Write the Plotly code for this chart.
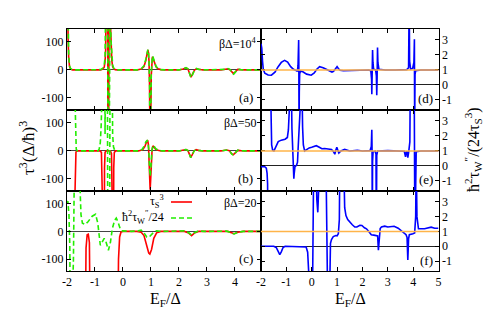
import plotly.graph_objects as go

# ---------------- data ----------------
# panel (a)  beta*Delta = 1e4
XA = [-2.00, -1.98, -1.96, -1.94, -1.91, -1.87, -1.80, -0.80, -0.72, -0.67, -0.64, -0.62,
      -0.60, -0.58, -0.555, -0.545, -0.53, -0.52, -0.49, -0.46, -0.43, -0.40, -0.37, -0.33,
      -0.28, -0.20, 0.50, 0.65, 0.75, 0.82, 0.86, 0.89, 0.91, 0.93, 0.95, 0.965, 0.975, 0.99,
      1.01, 1.03, 1.05, 1.08, 1.12, 1.18, 1.25, 1.35, 1.50, 2.00, 2.15, 2.25, 2.32, 2.38,
      2.43, 2.48, 2.55, 2.62, 2.70, 2.85, 3.50, 3.65, 3.75, 3.83, 3.90, 3.95, 4.02, 4.10,
      4.20, 4.35, 4.93]
RA = [500, 220, 110, 45, 12, 3, 0, 0, 3, 10, 30, 70,
      160, 500, 900, -900, -900, 900, 500, 200, 80, 35, 12, 4,
      1, 0, 0, 3, 12, 35, 58, 71, 62, 30, -60, -250, -500, -200,
      -20, 35, 47, 40, 25, 11, 4, 1, 0, 0, 3, 7, 3, -12,
      -26, -16, -1, 4, 2, 0, 0, 2, 4, 0, -11, -14, -6, 2,
      1, 0, 0]
GA = [500, 240, 120, 55, 15, 4, 0, 1, 6, 18, 45, 100,
      220, 600, 900, -900, -900, 900, 600, 260, 110, 50, 18, 6,
      2, 0, 0, 4, 15, 40, 62, 72, 64, 32, -50, -230, -500, -220,
      -10, 38, 50, 44, 28, 13, 5, 1, 0, 0, 4, 8, 4, -14,
      -28, -18, -2, 5, 2, 0, 0, 2, 5, 1, -12, -15, -7, 3,
      1, 0, 0]

# panel (b)  beta*Delta = 50
XB_R = [-2.00, -1.73, -1.715, -1.70, -1.68, -1.64, -0.82, -0.77, -0.75, -0.74, -0.67, -0.66,
        -0.64, -0.60, -0.45, -0.41, -0.40, -0.39, -0.34, -0.33, -0.31, -0.26, 0.55, 0.70,
        0.78, 0.84, 0.88, 0.91, 0.93, 0.95, 0.97, 0.99, 1.01, 1.04, 1.07, 1.11, 1.17, 1.25,
        1.35, 2.00, 2.15, 2.25, 2.32, 2.38, 2.42, 2.47, 2.54, 2.61, 2.70, 2.85, 3.50, 3.70,
        3.80, 3.88, 3.94, 4.02, 4.10, 4.20, 4.35, 4.93]
RB = [-500, -500, -150, -30, -4, 0, 0, -5, -60, -500, -500, -60,
      -5, 0, 0, -10, -80, -500, -500, -60, -5, 0, 0, 4,
      15, 32, 38, 22, -20, -90, -138, -100, -40, 5, 18, 14, 6, 2,
      0, 0, 3, 5, 1, -14, -23, -14, 0, 5, 2, 0, 0, 3,
      1, -10, -14, -6, 2, 1, 0, 0]
XB_G = [-2.00, -1.72, -1.705, -1.69, -1.67, -1.63, -0.90, -0.85, -0.81, -0.78, -0.76, -0.74,
        -0.66, -0.64, -0.62, -0.56, -0.54, -0.48, -0.46, -0.40, -0.37, -0.34, -0.30, -0.24,
        0.55, 0.68, 0.76, 0.82, 0.86, 0.89, 0.92, 0.95, 0.97, 1.00, 1.03, 1.07, 1.11, 1.17,
        1.25, 1.40, 2.00, 2.15, 2.25, 2.32, 2.38, 2.42, 2.47, 2.54, 2.61, 2.70, 2.85, 3.50,
        3.70, 3.80, 3.88, 3.94, 4.02, 4.10, 4.20, 4.35, 4.93]
GB = [500, 500, 150, 35, 6, 0, 0, 6, 30, 90, 200, 500,
      500, 60, 500, 500, -500, -500, 500, 500, 60, 15, 3, 0,
      0, 5, 18, 33, 37, 30, 5, -60, -90, -55, 0, 20, 17, 8,
      3, 0, 0, 3, 5, 1, -15, -24, -15, 0, 5, 2, 0, 0,
      3, 1, -11, -15, -6, 3, 1, 0, 0]

# panel (c)  beta*Delta = 20
XC_R = [-2.00, -1.36, -1.32, -1.28, -1.24, -1.20, -1.16, -0.20, -0.16, -0.12, -0.07, 0.00,
        0.50, 0.65, 0.75, 0.85, 0.92, 0.96, 1.02, 1.10, 1.20, 1.35, 2.20, 2.35, 2.45, 2.55,
        2.70, 3.75, 3.88, 3.97, 4.10, 4.30, 4.93]
RC = [-500, -500, -60, -12, -10, -40, -500, -500, -100, -20, -2, 0,
      0, -3, -15, -50, -78, -82, -65, -25, -5, 0, 0, -6, -15, -6,
      0, 0, -4, -8, -3, 0, 0]
XC_G = [-2.00, -1.97, -1.93, -1.90, -1.87, -1.80, -1.77, -1.74, -1.70, -1.60, -1.55, -1.50,
        -1.45, -1.35, -1.25, -1.10, -0.98, -0.90, -0.81, -0.74, -0.67, -0.60, -0.52, -0.45,
        -0.38, -0.30, -0.24, -0.18, -0.10, -0.03, 0.30, 0.55, 0.65, 0.75, 0.85, 0.92, 1.00,
        1.10, 1.20, 1.40, 2.20, 2.35, 2.45, 2.55, 2.70, 2.90, 3.70, 3.85, 3.97, 4.10, 4.30,
        4.93]
GC = [100, 110, 60, -50, -500, -500, -100, 200, 500, 500, 200, 60,
      30, 25, 35, 55, 62, 30, -50, -35, -25, -40, -68, -40,
      10, 40, 48, 35, 10, 2, 0, 2, 5, -5, -20, -22, -15,
      -3, 2, 0, 2, -5, -13, -5, 2, 0, 1, -4, -9, -3, 0,
      0]

# panel (d)
XD = [-2.00, -1.97, -1.94, -1.91, -1.85, -1.72, -1.59, -1.45, -1.33, -1.20, -1.07, -0.95,
      -0.83, -0.72, -0.62, -0.565, -0.54, -0.525, -0.515, -0.508, -0.50, -0.49, -0.475, -0.44,
      -0.35, -0.20, -0.02, 0.10, 0.20, 0.31, 0.45, 0.57, 0.70, 0.80, 0.86, 0.93, 1.00, 1.05,
      1.12, 1.25, 1.45, 1.70, 2.00, 2.25, 2.33, 2.36, 2.37, 2.385, 2.40, 2.415, 2.44, 2.52,
      2.55, 2.565, 2.58, 2.595, 2.61, 2.65, 2.90, 3.30, 3.75, 3.82, 3.835, 3.845, 3.86, 3.90,
      3.98, 4.03, 4.05, 4.06, 4.075, 4.10, 4.30, 5.00]
YD = [2.75, 2.45, 1.6, 1.05, 0.78, 0.66, 0.65, 0.85, 1.2, 1.5, 1.64, 1.52,
      1.22, 1.04, 0.97, 0.9, 1.3, 2.2, 3.0, 1.5, -3, -0.5, 0.75, 0.93,
      0.88, 0.72, 0.65, 0.8, 1.05, 1.22, 1.14, 1.04, 0.97, 0.86, 0.9, 1.1, 1.22, 1.1,
      0.98, 0.95, 0.97, 0.96, 1.02, 1.0, 0.95, 0.4, -0.62, 0.6, 2.33, 1.5, 1.05, 1.0,
      0.6, -0.69, 0.6, 2.49, 1.5, 1.05, 1.0, 1.0, 1.02, 1.15, 2.0, 6, 1.6, 1.05,
      1.1, 1.5, 3.05, -3, 0.7, 0.95, 1.0, 1.0]

# panel (e)
XE = [-2.00, -1.85, -1.79, -1.76, -1.74, -1.73, None, -1.63, -1.61, -1.58, -1.54, -1.49,
      -1.42, -1.32, -1.20, -1.05, -0.96, -0.92, -0.89, -0.87, -0.81, -0.78, -0.745, -0.72,
      -0.705, -0.69, -0.66, -0.60, -0.56, -0.535, -0.52, -0.51, -0.39, -0.36, -0.33, -0.28,
      -0.20, -0.10, 0.00, 0.10, 0.18, 0.30, 0.40, 0.51, 0.65, 0.78, 0.86, 0.91, 0.95, 0.99,
      1.03, 1.07, 1.15, 1.30, 1.50, 1.80, 2.00, 2.30, 2.35, 2.37, 2.38, 2.39, 2.40, 2.42,
      2.50, 2.535, 2.55, 2.565, 2.60, 3.00, 3.40, 3.65, 3.70, 3.73, 3.76, 3.79, 3.83, 3.87,
      3.89, 4.04, 4.07, 4.09, 4.12, 4.30, 5.00]
YE = [-0.05, -0.05, -0.15, -0.5, -1.2, -5, None, 6, 2.5, 1.4, 1.05, 1.0,
      1.25, 1.62, 1.72, 1.78, 1.9, 2.4, 3.5, 6, 6, 2.5, 0.6, -0.3,
      -0.85, -0.5, -0.05, 0.05, 0.25, 1.2, 3, 6, 6, 2.6, 1.4, 1.0,
      1.1, 1.2, 1.24, 1.3, 1.35, 1.25, 1.15, 1.16, 1.12, 1.1, 0.95, 0.78, 1.05, 1.24,
      1.05, 0.86, 1.0, 1.1, 1.0, 1.05, 1.0, 1.02, 1.3, 2.42, 1.0, -5, 0.3, 0.95,
      1.0, 0.8, -5, 0.7, 1.0, 1.02, 1.0, 0.98, 0.6, 0.95, 0.95, 0.55, 1.0, 1.6,
      6, 6, -5, 0.4, 0.95, 1.0, 1.0]

# panel (f)
XF = [-2.00, -1.50, -1.40, -1.33, -1.26, -1.20, -1.13, -1.05, -0.30, -0.22, -0.16, -0.12,
      -0.09, -0.02, 0.04, 0.06, 0.08, 0.17, 0.20, 0.24, 0.28, 0.32, 0.56, 0.60,
      0.62, 0.64, 0.69, 0.71, 0.74, 0.78, 0.85, 0.95, 1.00, 1.05, 1.09, 1.11,
      1.26, 1.30, 1.35, 1.42, 1.50, 1.60, 1.70, 1.78, 1.90, 1.98, 2.08, 2.16,
      2.25, 2.35, 2.45, 2.55, 2.60, 2.63, 2.66, 2.70, 2.75, 2.88, 3.00, 3.14,
      3.25, 3.41, 3.50, 3.60, 3.72, 3.76, 3.79, 3.82, 3.85, 3.99, 4.06, 4.10,
      4.12, 4.15, 4.18, 4.21, 4.45, 4.60, 4.71, 4.85, 5.00]
YF = [0.0, 0.0, -0.08, -0.35, -0.56, -0.38, -0.08, 0.0, 0.0, -0.05, -0.4, -1.2,
      -5, -5, -1.5, 1.0, 6, 6, 3.2, 2.29, 3.0, 6, 6, 1.5,
      -0.5, -5, -5, -0.6, 0.2, 0.45, 0.65, 0.72, 0.7, 0.85, 1.8, 6,
      6, 2.6, 2.07, 1.8, 1.62, 1.45, 1.3, 1.3, 1.42, 1.4, 1.25, 1.18,
      1.0, 0.78, 0.75, 0.73, 0.7, -0.27, 0.6, 1.2, 1.3, 1.36, 1.3, 1.3,
      1.35, 1.22, 1.1, 0.96, 0.78, 0.6, -0.93, 0.5, 0.78, 0.84, 0.9, 2.0,
      6, 2.0, 1.2, 1.18, 1.18, 1.25, 1.29, 1.22, 1.22]

LEFT_YTICKS = [-100, 0, 100]
LEFT_XTICKS = [-2, -1, 0, 1, 2, 3, 4]
RIGHT_YTICKS = [-1, 0, 1, 2, 3]
RIGHT_XTICKS = [-2, -1, 0, 1, 2, 3, 4, 5]
BETA_LABELS = ["βΔ=10<sup>4</sup>", "βΔ=50", "βΔ=20"]
PANEL_LABELS = ["(a)", "(b)", "(c)", "(d)", "(e)", "(f)"]

# ---------------- figure ----------------
W, H = 491, 315
def px(x): return x / W
def py(y): return 1 - y / H

FONT = "Liberation Serif"
RED = "#ff0000"
GREEN = "#22ee00"
BLUE = "#0000ff"
ORANGE = "#ffb449"

rows = [(21, 102), (102, 183), (183, 263)]
LX = [px(59), px(253)]
RX = [px(253), px(430.5)]

fig = go.Figure()

left_sets = [(XA, RA, XA, GA), (XB_R, RB, XB_G, GB), (XC_R, RC, XC_G, GC)]
for i, (xr, yr, xg, yg) in enumerate(left_sets):
    n = i + 1
    fig.add_trace(go.Scatter(x=xr, y=yr, mode="lines", line=dict(color=RED, width=1.6),
                             xaxis=f"x{n}", yaxis=f"y{n}", showlegend=False))
    fig.add_trace(go.Scatter(x=xg, y=yg, mode="lines",
                             line=dict(color=GREEN, width=1.6, dash="5px,3px"),
                             xaxis=f"x{n}", yaxis=f"y{n}", showlegend=False))

right_sets = [(XD, YD), (XE, YE), (XF, YF)]
for i, (xb, yb) in enumerate(right_sets):
    n = i + 4
    fig.add_trace(go.Scatter(x=xb, y=yb, mode="lines", line=dict(color=BLUE, width=1.6),
                             xaxis=f"x{n}", yaxis=f"y{n}", showlegend=False,
                             connectgaps=False))

tickfont = dict(family=FONT, size=12, color="black")
common = dict(showline=True, linecolor="black", linewidth=1, mirror="ticks",
              ticks="inside", ticklen=4, tickcolor="black", showgrid=False,
              tickfont=tickfont, automargin=False)

layout = {}
for i, (top, bot) in enumerate(rows):
    n = i + 1
    layout[f"xaxis{n}"] = dict(common, domain=LX, anchor=f"y{n}", range=[-2, 4.93],
                               tickvals=LEFT_XTICKS, ticktext=[str(v) for v in LEFT_XTICKS],
                               showticklabels=(i == 2), zeroline=False)
    layout[f"yaxis{n}"] = dict(common, domain=[py(bot), py(top)], anchor=f"x{n}",
                               range=[-143, 146], tickvals=LEFT_YTICKS,
                               ticktext=[str(v) for v in LEFT_YTICKS],
                               zeroline=True, zerolinecolor="#444444", zerolinewidth=1)
    m = i + 4
    layout[f"xaxis{m}"] = dict(common, domain=RX, anchor=f"y{m}", range=[-2, 5],
                               tickvals=RIGHT_XTICKS, ticktext=[str(v) for v in RIGHT_XTICKS],
                               showticklabels=(i == 2), zeroline=False)
    layout[f"yaxis{m}"] = dict(common, domain=[py(bot), py(top)], anchor=f"x{m}",
                               range=[-1.67, 3.73], tickvals=RIGHT_YTICKS,
                               ticktext=[str(v) for v in RIGHT_YTICKS], side="right",
                               zeroline=True, zerolinecolor="#222222", zerolinewidth=1)

shapes = []
for m in (4, 5, 6):
    shapes.append(dict(type="line", xref=f"x{m} domain", yref=f"y{m}", x0=0, x1=1,
                       y0=1, y1=1, line=dict(color=ORANGE, width=1.6), layer="above"))
# legend sample lines in panel (c)
shapes.append(dict(type="line", xref="paper", yref="paper", x0=px(163), x1=px(184),
                   y0=py(194), y1=py(194), line=dict(color=RED, width=1.6)))
shapes.append(dict(type="line", xref="paper", yref="paper", x0=px(163), x1=px(184),
                   y0=py(210), y1=py(210), line=dict(color=GREEN, width=1.6, dash="5px,3px")))

ann = []
def text(x, y, s, size=12, xanchor="center", angle=0):
    ann.append(dict(x=px(x), y=py(y), xref="paper", yref="paper", text=s, showarrow=False,
                    xanchor=xanchor, yanchor="middle", textangle=angle,
                    font=dict(family=FONT, size=size, color="black")))

beta_y = [35, 115, 195]
lab_y = [89, 170, 250]
for i in range(3):
    text(251, beta_y[i], BETA_LABELS[i], size=12, xanchor="right")
    text(247, lab_y[i], PANEL_LABELS[i], size=13, xanchor="right")
    text(427, lab_y[i] + 2, PANEL_LABELS[i + 3], size=13, xanchor="right")

text(158, 193, "τ<sub>S</sub><sup>3</sup>", size=12, xanchor="right")
text(158, 209, "ħ<sup>2</sup>τ<sub>W</sub><sup>″</sup>/24", size=12, xanchor="right")

text(157, 291, "E<sub>F</sub>/Δ", size=16)
text(342, 291, "E<sub>F</sub>/Δ", size=16)
text(19, 140, "τ<sup>3</sup>(Δ/ħ)<sup>3</sup>", size=17, angle=-90)
text(465, 142, "ħ<sup>2</sup>τ<sub>W</sub><sup>″</sup>/(24τ<sub>S</sub><sup>3</sup>)", size=16, angle=-90)

fig.update_layout(width=W, height=H, margin=dict(l=0, r=0, t=0, b=0),
                  paper_bgcolor="white", plot_bgcolor="white",
                  shapes=shapes, annotations=ann, **layout)

fig.write_html("out.html")
